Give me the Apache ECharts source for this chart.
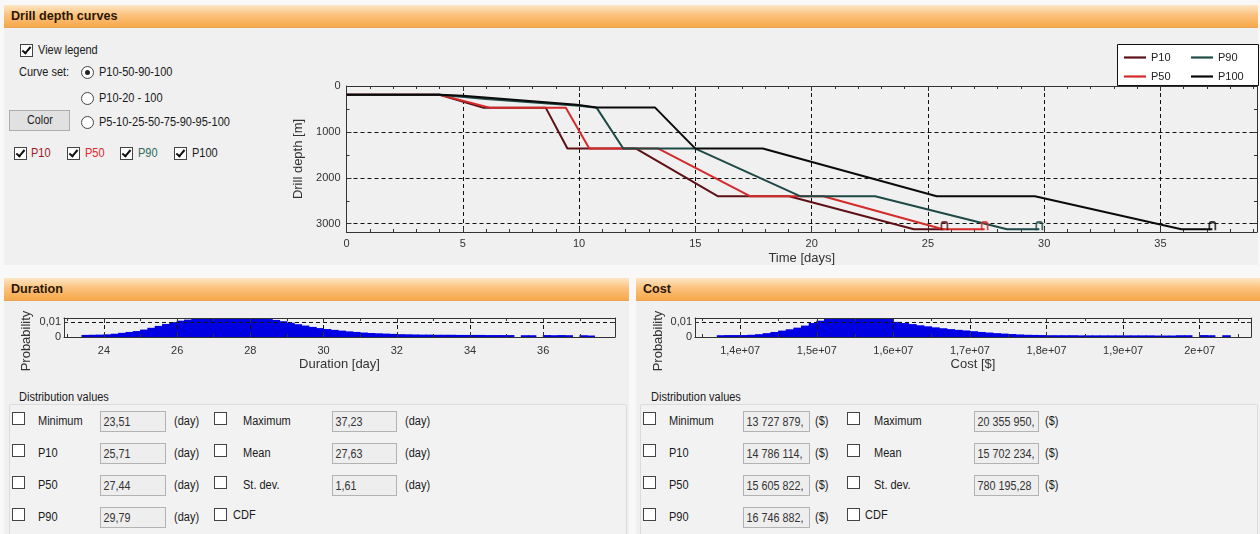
<!DOCTYPE html>
<html><head><meta charset="utf-8">
<script src="https://cdn.jsdelivr.net/npm/echarts@6/dist/echarts.min.js"></script>
<style>
html,body{margin:0;padding:0}
body{width:1260px;height:534px;position:relative;overflow:hidden;background:#f8f8f8;font-family:"Liberation Sans",Arial,sans-serif;color:#1a1a1a}
.panel{position:absolute;background:#f0f0f0}
.hdr{position:absolute;height:22px;background:linear-gradient(#fde6c4,#fbc27e 45%,#f7a84b);border-bottom:1px solid #e8a458;font-weight:bold;font-size:13px;line-height:22px;color:#2a1705}
.ht{display:inline-block;margin-left:7px;transform:scaleX(.97);transform-origin:0 50%}
.t{position:absolute;font-size:12.5px;white-space:nowrap;transform:translateY(-50%) scaleX(.88);transform-origin:0 50%;line-height:14px}
.cb{position:absolute;width:11px;height:11px;border:1px solid #444;background:#fff}
.cb.on::after{content:"";position:absolute;left:3px;top:0px;width:3px;height:7px;border:solid #111;border-width:0 2px 2px 0;transform:rotate(40deg)}
.rd{position:absolute;width:11px;height:11px;border:1px solid #444;border-radius:50%;background:#fff}
.rd.on::after{content:"";position:absolute;left:3px;top:3px;width:5px;height:5px;border-radius:50%;background:#222}
.tb{position:absolute;height:21px;border:1px solid #b3b3b3;background:#eeeeee;box-sizing:border-box;overflow:hidden;white-space:nowrap}
.tb span{display:inline-block;font-size:12.5px;line-height:19px;padding-left:3px;transform:scaleX(.86);transform-origin:0 50%;color:#333}
.btn{position:absolute;border:1px solid #adadad;background:#e1e1e1;box-sizing:border-box;text-align:center;font-size:12.5px;line-height:19px}
.btn span{display:inline-block;transform:scaleX(.86)}
.grp{position:absolute;border:1px solid #dcdcdc;border-radius:2px;background:#f2f2f2}
#chart{position:absolute;left:0;top:0;width:1260px;height:534px;pointer-events:none}
</style></head>
<body>
<div class="panel" style="left:4px;top:5px;width:1254px;height:260px"></div>
<div class="hdr" style="left:4px;top:5px;width:1254px"><span class="ht">Drill depth curves</span></div>
<div class="cb on" style="left:20px;top:44px"></div><div class="t" style="left:38px;top:50px">View legend</div>
<div class="t" style="left:19px;top:72px">Curve set:</div>
<div class="rd on" style="left:81px;top:66px"></div><div class="t" style="left:99px;top:72px">P10-50-90-100</div>
<div class="rd" style="left:81px;top:92px"></div><div class="t" style="left:99px;top:98px">P10-20 - 100</div>
<div class="btn" style="left:9px;top:110px;width:61px;height:21px"><span>Color</span></div>
<div class="rd" style="left:81px;top:116px"></div><div class="t" style="left:99px;top:122px">P5-10-25-50-75-90-95-100</div>
<div class="cb on" style="left:14px;top:147px"></div><div class="t" style="left:31px;top:153px;color:#9c1a1e">P10</div>
<div class="cb on" style="left:67px;top:147px"></div><div class="t" style="left:85px;top:153px;color:#e0262a">P50</div>
<div class="cb on" style="left:120px;top:147px"></div><div class="t" style="left:138px;top:153px;color:#2f6b5c">P90</div>
<div class="cb on" style="left:174px;top:147px"></div><div class="t" style="left:192px;top:153px">P100</div>

<div class="panel" style="left:4px;top:278px;width:625px;height:256px"></div>
<div class="hdr" style="left:4px;top:278px;width:625px"><span class="ht">Duration</span></div>
<div class="grp" style="left:9px;top:404px;width:616px;height:135px"></div>
<div class="t" style="left:19px;top:397px">Distribution values</div>

<div class="panel" style="left:636px;top:278px;width:624px;height:256px"></div>
<div class="hdr" style="left:636px;top:278px;width:624px"><span class="ht">Cost</span></div>
<div class="grp" style="left:640px;top:404px;width:616px;height:135px"></div>
<div class="t" style="left:651px;top:397px">Distribution values</div>

<div id="form"></div>
<div id="chart"></div>
<script>
// ---------- chart data ----------
const curveNames = ['P10', 'P50', 'P90', 'P100'];
const p10Time  = [0, 4, 5.9, 8.57, 9.5, 12.45, 15.96, 19.03, 24.4, 25.71];
const p10Depth = [190, 190, 476, 476, 1363, 1363, 2400, 2400, 3120, 3120];
const p50Time  = [0, 4, 6.2, 9.43, 10.44, 13.41, 17.35, 20.5, 25.65, 27.44];
const p50Depth = [190, 190, 476, 476, 1363, 1363, 2400, 2400, 3120, 3120];
const p90Time  = [0, 4, 6.0, 10.0, 10.76, 11.9, 15.0, 19.5, 22.73, 28.4, 29.79];
const p90Depth = [190, 190, 285, 432, 476, 1363, 1363, 2400, 2400, 3120, 3120];
const p100Time  = [0, 4, 5.0, 9.9, 10.76, 13.27, 15.0, 17.9, 25.38, 29.6, 35.9, 37.23];
const p100Depth = [190, 190, 214, 410, 470, 470, 1363, 1363, 2400, 2400, 3120, 3120];

const durBins = [23.5,23.7,23.9,24.1,24.3,24.5,24.7,24.9,25.1,25.3,25.5,25.7,25.9,26.1,26.3,26.5,26.7,26.9,27.1,27.3,27.5,27.7,27.9,28.1,28.3,28.5,28.7,28.9,29.1,29.3,29.5,29.7,29.9,30.1,30.3,30.5,30.7,30.9,31.1,31.3,31.5,31.7,31.9,32.1,32.3,32.5,32.7,32.9,33.1,33.3,33.5,33.7,33.9,34.1,34.3,34.5,34.7,34.9,35.1,35.3,35.5,35.7,35.9,36.1,36.3,36.5,36.7,36.9,37.1,37.3];
const durProb = [0.0014,0.0015,0.0016,0.0018,0.0022,0.0028,0.0034,0.0040,0.0050,0.0062,0.0075,0.0088,0.0100,0.0110,0.0117,0.0122,0.0126,0.0127,0.0127,0.0127,0.0127,0.0127,0.0127,0.0126,0.0125,0.0121,0.0115,0.0106,0.0096,0.0086,0.0077,0.0068,0.0060,0.0054,0.0048,0.0043,0.0038,0.0034,0.0030,0.0027,0.0025,0.0023,0.0021,0.0019,0.0018,0.0017,0.0016,0.0016,0.0015,0.0015,0.0015,0.0014,0.0014,0.0014,0.0014,0.0013,0.0013,0.0013,0.0013,0,0.0012,0.0012,0,0.0013,0.0012,0.0013,0.0012,0,0.0012,0.0010];

const costBinsM = [13.75,13.85,13.95,14.05,14.15,14.25,14.35,14.45,14.55,14.65,14.75,14.85,14.95,15.05,15.15,15.25,15.35,15.45,15.55,15.65,15.75,15.85,15.95,16.05,16.15,16.25,16.35,16.45,16.55,16.65,16.75,16.85,16.95,17.05,17.15,17.25,17.35,17.45,17.55,17.65,17.75,17.85,17.95,18.05,18.15,18.25,18.35,18.45,18.55,18.65,18.75,18.85,18.95,19.05,19.15,19.25,19.35,19.45,19.55,19.65,19.75,19.85,19.95,20.05,20.15,20.25,20.35];
const costProb = [0.0012,0.0013,0.0013,0.0013,0.0015,0.0019,0.0026,0.0034,0.0043,0.0052,0.0063,0.0077,0.0094,0.0110,0.0121,0.0126,0.0127,0.0127,0.0127,0.0127,0.0127,0.0127,0.0122,0.0102,0.0094,0.0087,0.0079,0.0072,0.0065,0.0059,0.0053,0.0048,0.0044,0.0039,0.0034,0.0030,0.0026,0.0023,0.0020,0.0017,0.0015,0.0014,0.0013,0.0012,0.0012,0.0012,0.0012,0.0011,0.0011,0.0011,0.0011,0.0011,0.0011,0.0011,0.0011,0.0011,0.0011,0.0010,0.0010,0.0010,0.0012,0.0012,0,0.0013,0.0012,0,0.0012];

// ---------- form text ----------
const durRows = [['Minimum','23,51','Maximum','37,23'],['P10','25,71','Mean','27,63'],['P50','27,44','St. dev.','1,61'],['P90','29,79',null,null]];
const costRows = [['Minimum','13 727 879,','Maximum','20 355 950,'],['P10','14 786 114,','Mean','15 702 234,'],['P50','15 605 822,','St. dev.','780 195,28'],['P90','16 746 882,',null,null]];
const rowY = [421, 453, 485, 517];

function buildForm(rows, unit, L) {
  let h = '';
  rows.forEach((r, i) => {
    const y = rowY[i];
    h += `<div class="cb" style="left:${L.cb1}px;top:${y-9}px"></div>`;
    h += `<div class="t" style="left:${L.lb1}px;top:${y}px">${r[0]}</div>`;
    h += `<div class="tb" style="left:${L.tb1}px;top:${y-10}px;width:${L.tw1}px"><span>${r[1]}</span></div>`;
    h += `<div class="t" style="left:${L.u1}px;top:${y}px">${unit}</div>`;
    if (r[2]) {
      h += `<div class="cb" style="left:${L.cb2}px;top:${y-9}px"></div>`;
      h += `<div class="t" style="left:${L.lb2}px;top:${y}px">${r[2]}</div>`;
      h += `<div class="tb" style="left:${L.tb2}px;top:${y-10}px;width:${L.tw2}px"><span>${r[3]}</span></div>`;
      h += `<div class="t" style="left:${L.u2}px;top:${y}px">${unit}</div>`;
    } else {
      h += `<div class="cb" style="left:${L.cb2}px;top:${y-9}px"></div>`;
      h += `<div class="t" style="left:${L.cdf}px;top:${y-2}px">CDF</div>`;
    }
  });
  return h;
}
document.getElementById('form').innerHTML =
  buildForm(durRows, '(day)', {cb1:12, lb1:38, tb1:100, tw1:66, u1:174, cb2:214, lb2:243, tb2:332, tw2:65, u2:405, cdf:233}) +
  buildForm(costRows, '($)', {cb1:643, lb1:669, tb1:743, tw1:67, u1:815, cb2:847, lb2:874, tb2:974, tw2:65, u2:1045, cdf:865});

// ---------- chart ----------
const colors = {P10:'#5e1015', P50:'#d42a2a', P90:'#1d4a46', P100:'#0a0a0a'};
const curves = [[p10Time,p10Depth],[p50Time,p50Depth],[p90Time,p90Depth],[p100Time,p100Depth]];
const pairs = (a, b, k) => a.map((v, i) => [v * (k || 1), b[i]]);
const isMult = (v, m) => Math.abs(v / m - Math.round(v / m)) < 1e-6;
const font = '"Liberation Sans", Arial, sans-serif';
const ax = '#333';
const dash = {color:'#111', type:[4,3], width:1};

function xA(gi, pos, min, max, extra) {
  const o = {type:'value', gridIndex:gi, position:pos, min:min, max:max,
    axisLine:{show:true, onZero:false, lineStyle:{color:ax}},
    axisTick:{inside:true, length:5, lineStyle:{color:ax}},
    minorTick:{show:true, splitNumber:5, length:3, lineStyle:{color:ax}},
    axisLabel:{show:false}, splitLine:{show:false}};
  return Object.assign(o, extra || {});
}
function yA(gi, pos, min, max, extra) {
  const o = {type:'value', gridIndex:gi, position:pos, min:min, max:max,
    axisLine:{show:true, onZero:false, lineStyle:{color:ax}},
    axisTick:{inside:true, length:5, lineStyle:{color:ax}},
    minorTick:{show:false},
    axisLabel:{show:false}, splitLine:{show:false}};
  return Object.assign(o, extra || {});
}
const lbl = (fmt, margin) => ({show:true, fontSize:11, color:'#333', margin:margin, formatter:fmt});
const nm = {fontSize:13, color:'#333'};

const fmtTime = v => isMult(v, 5) ? String(Math.round(v)) : '';
const fmtDepth = v => isMult(v, 1000) ? String(Math.round(v)) : '';
const fmtDur = v => isMult(v, 2) ? String(Math.round(v)) : '';
const fmtCost = v => {
  if (!isMult(v, 1e6)) return '';
  const m = Math.round(v / 1e6) / 10;
  return (Number.isInteger(m) ? String(m) : m.toFixed(1)).replace('.', ',') + 'e+07';
};
const fmtProb = v => v === 0 ? '0' : (isMult(v, 0.01) ? String(Math.round(v * 100) / 100).replace('.', ',') : '');

const durMin = 22.91, durMax = 37.96, costMin = 13.41e6, costMax = 20.67e6, probMax = 0.0128;

const series = [];
curveNames.forEach((n, i) => {
  series.push({name:n, type:'line', xAxisIndex:0, yAxisIndex:0, data:pairs(curves[i][0], curves[i][1]),
    symbol:'none', lineStyle:{color:colors[n], width:2}, itemStyle:{color:colors[n]}, z:2+i, silent:true});
});
curveNames.forEach((n, i) => {
  const t = curves[i][0], d = curves[i][1];
  series.push({type:'scatter', xAxisIndex:0, yAxisIndex:0, data:[[t[t.length-1], d[d.length-1]]],
    symbol:'path://M0,10 L0,3 Q0,0 3,0 L7,0 Q10,0 10,3 L10,10', symbolSize:[6,8], symbolOffset:[0,-3],
    itemStyle:{color:'rgba(0,0,0,0)', borderColor:colors[n], borderWidth:2}, z:7, silent:true});
});
series.push({type:'bar', xAxisIndex:2, yAxisIndex:2, data:pairs(durBins, durProb), barWidth:8.2,
  itemStyle:{color:'#0000e2'}, clip:true, silent:true});
series.push({type:'bar', xAxisIndex:4, yAxisIndex:4, data:pairs(costBinsM, costProb, 1e6), barWidth:8.5,
  itemStyle:{color:'#0000e2'}, clip:true, silent:true});

const legendBase = {orient:'vertical', top:52, padding:0, itemWidth:22, itemHeight:10, itemGap:8,
  icon:'path://M0,0h22v2.2h-22z', selectedMode:false, textStyle:{fontSize:11, color:'#222'}, z:10};

const option = {
  animation:false,
  textStyle:{fontFamily:font},
  grid:[
    {left:346.5, top:86, width:911, height:146},
    {left:64, top:318, width:551, height:19},
    {left:695, top:318, width:556, height:19}
  ],
  xAxis:[
    xA(0, 'bottom', 0, 39.15, {interval:5, axisLabel:lbl(fmtTime, 6), splitLine:{show:true, lineStyle:dash},
      name:'Time [days]', nameLocation:'middle', nameGap:20, nameTextStyle:nm}),
    xA(0, 'top', 0, 39.15, {interval:5}),
    xA(1, 'bottom', durMin, durMax, {splitNumber:7, z:5, minorTick:{show:true, splitNumber:2, length:3, lineStyle:{color:ax}},
      axisLabel:lbl(fmtDur, 8), splitLine:{show:true, lineStyle:dash},
      name:'Duration [day]', nameLocation:'middle', nameGap:21, nameTextStyle:nm}),
    xA(1, 'top', durMin, durMax, {splitNumber:7, z:5, minorTick:{show:true, splitNumber:2, length:3, lineStyle:{color:ax}}}),
    xA(2, 'bottom', costMin, costMax, {splitNumber:7, z:5, minorTick:{show:true, splitNumber:2, length:3, lineStyle:{color:ax}},
      axisLabel:lbl(fmtCost, 8), splitLine:{show:true, lineStyle:dash},
      name:'Cost [$]', nameLocation:'middle', nameGap:21, nameTextStyle:nm}),
    xA(2, 'top', costMin, costMax, {splitNumber:7, z:5, minorTick:{show:true, splitNumber:2, length:3, lineStyle:{color:ax}}})
  ],
  yAxis:[
    yA(0, 'left', 0, 3180, {inverse:true, interval:1000, minorTick:{show:true, splitNumber:2, length:3, lineStyle:{color:ax}},
      axisLabel:lbl(fmtDepth, 6), splitLine:{show:true, lineStyle:dash},
      name:'Drill depth [m]', nameLocation:'middle', nameGap:31, nameRotate:90, nameTextStyle:nm}),
    yA(0, 'right', 0, 3180, {inverse:true, interval:1000, minorTick:{show:true, splitNumber:2, length:3, lineStyle:{color:ax}}}),
    yA(1, 'left', 0, probMax, {interval:0.01, z:5, axisTick:{inside:true, length:4, lineStyle:{color:ax}},
      axisLabel:lbl(fmtProb, 3), splitLine:{show:true, lineStyle:dash}}),
    yA(1, 'right', 0, probMax, {interval:0.01, z:5, axisTick:{inside:true, length:4, lineStyle:{color:ax}}}),
    yA(2, 'left', 0, probMax, {interval:0.01, z:5, axisTick:{inside:true, length:4, lineStyle:{color:ax}},
      axisLabel:lbl(fmtProb, 3), splitLine:{show:true, lineStyle:dash}}),
    yA(2, 'right', 0, probMax, {interval:0.01, z:5, axisTick:{inside:true, length:4, lineStyle:{color:ax}}})
  ],
  legend:[
    Object.assign({data:['P10','P50'], left:1124}, legendBase),
    Object.assign({data:['P90','P100'], left:1191}, legendBase)
  ],
  graphic:[
    {type:'rect', shape:{x:1117.5, y:44.5, width:141, height:41}, style:{fill:'#ffffff', stroke:'#111', lineWidth:1}, z:9},
    {type:'text', x:26, y:341, rotation:Math.PI/2, style:{text:'Probability', font:'13px ' + font, fill:'#333', align:'center', verticalAlign:'middle'}},
    {type:'text', x:658, y:341, rotation:Math.PI/2, style:{text:'Probability', font:'13px ' + font, fill:'#333', align:'center', verticalAlign:'middle'}}
  ],
  series:series
};
const chart = echarts.init(document.getElementById('chart'), null, {renderer:'canvas'});
chart.setOption(option);
</script>
</body></html>
